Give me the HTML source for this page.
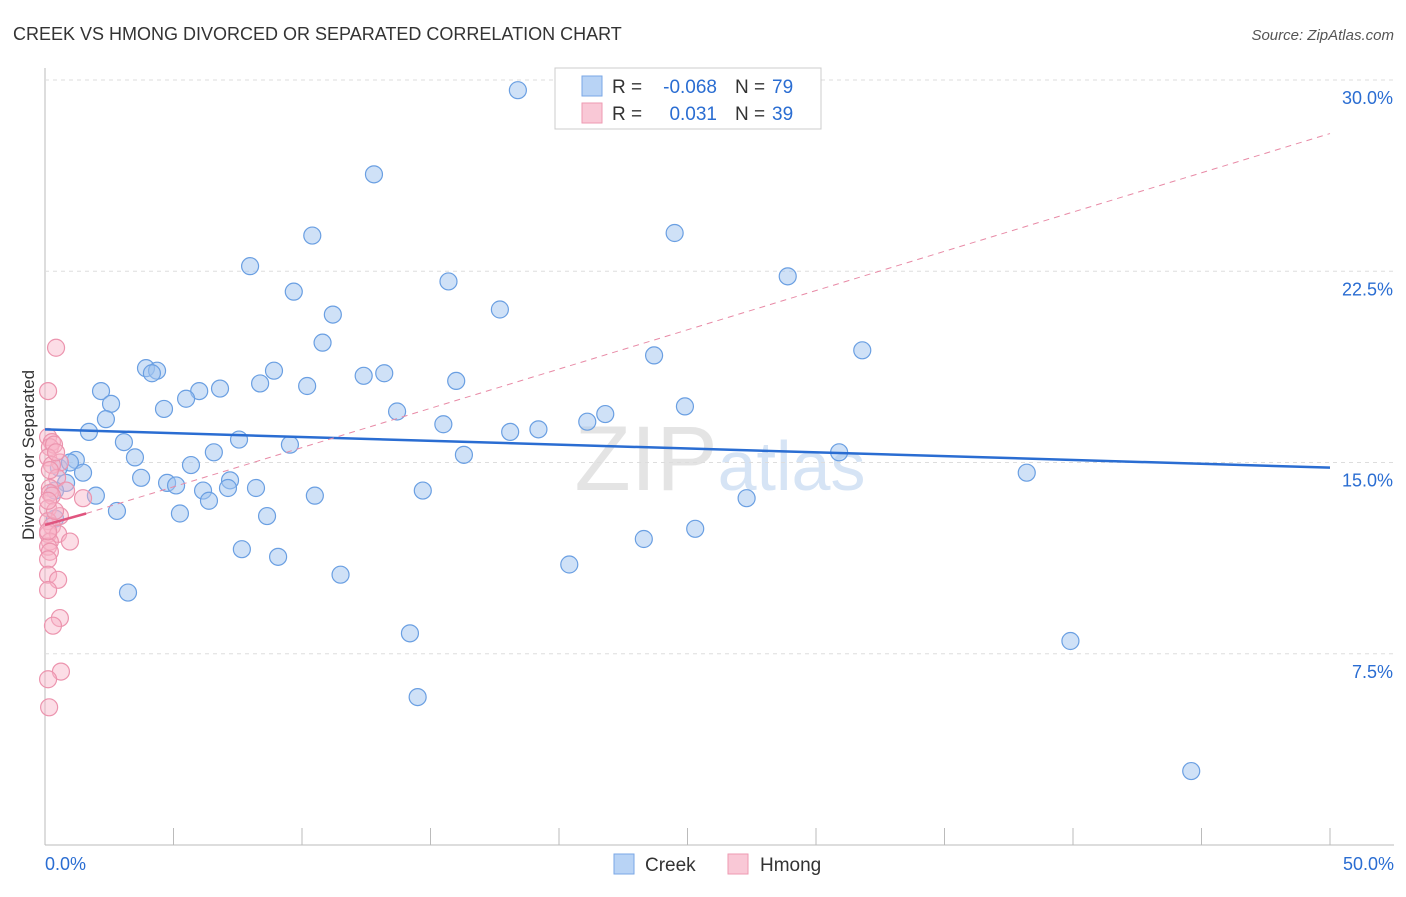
<!DOCTYPE html>
<html><head><meta charset="utf-8"><style>
body{margin:0;background:#fff;font-family:"Liberation Sans",sans-serif}
svg text{font-family:"Liberation Sans",sans-serif}
</style></head><body>
<svg id="c" width="1406" height="892">
<text x="13" y="40" font-size="18" fill="#333">CREEK VS HMONG DIVORCED OR SEPARATED CORRELATION CHART</text>
<text x="1394" y="40" font-size="15" fill="#555" text-anchor="end" font-style="italic">Source: ZipAtlas.com</text>
<text x="720" y="490" font-size="92" fill="#e4e4e4" text-anchor="middle" font-family="Liberation Serif">ZIP<tspan fill="#d6e4f5" font-family="Liberation Sans" font-size="70">atlas</tspan></text>
<g id="grid"></g><g id="pts"></g><g id="lines"></g>
<text x="34" y="455" font-size="17" fill="#333" text-anchor="middle" transform="rotate(-90 34 455)">Divorced or Separated</text>
<g>
<rect x="555" y="68" width="266" height="61" fill="#fff" stroke="#ccc"/>
<rect x="582" y="76" width="20" height="20" fill="#b8d3f5" stroke="#7aa7e6"/>
<rect x="582" y="103" width="20" height="20" fill="#f9c8d6" stroke="#ee9ab2"/>
<text x="612" y="93" font-size="19" fill="#333">R =</text>
<text x="717" y="93" font-size="19" fill="#2a6dd2" text-anchor="end">-0.068</text>
<text x="735" y="93" font-size="19" fill="#333">N =</text>
<text x="772" y="93" font-size="19" fill="#2a6dd2">79</text>
<text x="612" y="120" font-size="19" fill="#333">R =</text>
<text x="717" y="120" font-size="19" fill="#2a6dd2" text-anchor="end">0.031</text>
<text x="735" y="120" font-size="19" fill="#333">N =</text>
<text x="772" y="120" font-size="19" fill="#2a6dd2">39</text>
</g>
<g>
<rect x="614" y="854" width="20" height="20" fill="#b8d3f5" stroke="#7aa7e6"/>
<text x="645" y="871" font-size="19" fill="#333">Creek</text>
<rect x="728" y="854" width="20" height="20" fill="#f9c8d6" stroke="#ee9ab2"/>
<text x="760" y="871" font-size="19" fill="#333">Hmong</text>
</g>
</svg>
<script>
const creekX=[18.4,12.8,10.4,24.5,7.98,15.7,9.68,28.9,17.7,11.2,10.8,23.7,31.8,3.93,4.36,4.16,8.91,12.4,13.2,8.37,10.2,6.81,16.0,2.18,6.0,5.49,2.57,4.63,13.7,24.9,21.8,2.37,21.1,15.5,1.71,18.1,19.2,3.07,7.55,9.53,6.57,3.5,1.2,16.3,30.9,5.68,0.54,0.97,1.48,3.74,38.2,4.75,5.1,7.2,7.12,6.15,8.21,0.82,0.39,1.98,10.5,14.7,6.38,27.3,2.8,5.25,8.64,0.39,25.3,23.3,7.66,9.07,20.4,11.5,3.23,14.2,39.9,14.5,44.6];
const creekY=[29.6,26.3,23.9,24.0,22.7,22.1,21.7,22.3,21.0,20.8,19.7,19.2,19.4,18.7,18.6,18.5,18.6,18.4,18.5,18.1,18.0,17.9,18.2,17.8,17.8,17.5,17.3,17.1,17.0,17.2,16.9,16.7,16.6,16.5,16.2,16.2,16.3,15.8,15.9,15.7,15.4,15.2,15.1,15.3,15.4,14.9,14.8,15.0,14.6,14.4,14.6,14.2,14.1,14.3,14.0,13.9,14.0,14.2,13.9,13.7,13.7,13.9,13.5,13.6,13.1,13.0,12.9,12.8,12.4,12.0,11.6,11.3,11.0,10.6,9.9,8.3,8.0,5.8,2.9];
const hmongX=[0.43,0.12,0.12,0.27,0.19,0.35,0.12,0.58,0.27,0.47,0.19,0.82,0.19,0.27,1.48,0.12,0.58,0.12,0.27,0.12,0.51,0.19,0.97,0.12,0.19,0.12,0.12,0.51,0.12,0.58,0.31,0.62,0.12,0.16,0.39,0.12,0.43,0.19,0.12];
const hmongY=[19.5,17.8,16.0,15.8,15.6,15.7,15.2,15.0,14.9,14.4,14.0,13.9,13.8,13.7,13.6,13.2,12.9,12.7,12.5,12.2,12.2,11.9,11.9,11.7,11.5,11.2,10.6,10.4,10.0,8.9,8.6,6.8,6.5,5.4,13.1,12.3,15.4,14.7,13.5];
const yTicks=[7.5,15,22.5,30];
const sx=v=>45+v/50*1285, sy=v=>845-v/30*765;
const NS="http://www.w3.org/2000/svg";
function mk(t,a,p){const e=document.createElementNS(NS,t);for(const k in a)e.setAttribute(k,a[k]);p.appendChild(e);return e;}
const g=document.getElementById('grid');
let ax=mk('line',{x1:45,y1:68,x2:45,y2:845,stroke:'#bbb'},g);


let bx=mk('line',{x1:45,y1:845,x2:1394,y2:845,stroke:'#bbb'},g);


for(let i=0;i<=10;i++){const l=mk('line',{x1:sx(i*5),x2:sx(i*5),y1:828,y2:845,stroke:'#bbb'},g);

}
yTicks.forEach(v=>{const l=mk('line',{x1:45,x2:1394,y1:sy(v),y2:sy(v),stroke:'#ddd','stroke-dasharray':'4,4'},g);


const t=mk('text',{x:1393,y:sy(v)+24,'font-size':18,fill:'#2a6dd2','text-anchor':'end'},g);t.textContent=v.toFixed(1)+'%';

});
[[0,'start',45],[50,'end',1394]].forEach(([v,a,x])=>{const t=mk('text',{x:x,y:870,'font-size':18,fill:'#2a6dd2','text-anchor':a},g);t.textContent=v.toFixed(1)+'%';

});
const p=document.getElementById('pts');
creekX.forEach((x,i)=>{const c=mk('circle',{cx:sx(x),cy:sy(creekY[i]),r:8.5,fill:'rgba(160,196,240,0.5)',stroke:'#6a9fe2','stroke-width':1.2},p);

});
hmongX.forEach((x,i)=>{const c=mk('circle',{cx:sx(x),cy:sy(hmongY[i]),r:8.5,fill:'rgba(248,180,200,0.45)',stroke:'#ec94ae','stroke-width':1.2},p);

});
const L=document.getElementById('lines');
let t1=mk('line',{x1:sx(0),y1:sy(16.3),x2:sx(50),y2:sy(14.8),stroke:'#2a6dd2','stroke-width':2.5},L);


let t2=mk('line',{x1:sx(1.6),y1:sy(13.0),x2:sx(50),y2:sy(27.9),stroke:'#e88aa6','stroke-width':1,'stroke-dasharray':'6,5'},L);


let t3=mk('line',{x1:sx(0),y1:sy(12.55),x2:sx(1.6),y2:sy(13.0),stroke:'#e0557f','stroke-width':2.5},L);


</script>
</body></html>
